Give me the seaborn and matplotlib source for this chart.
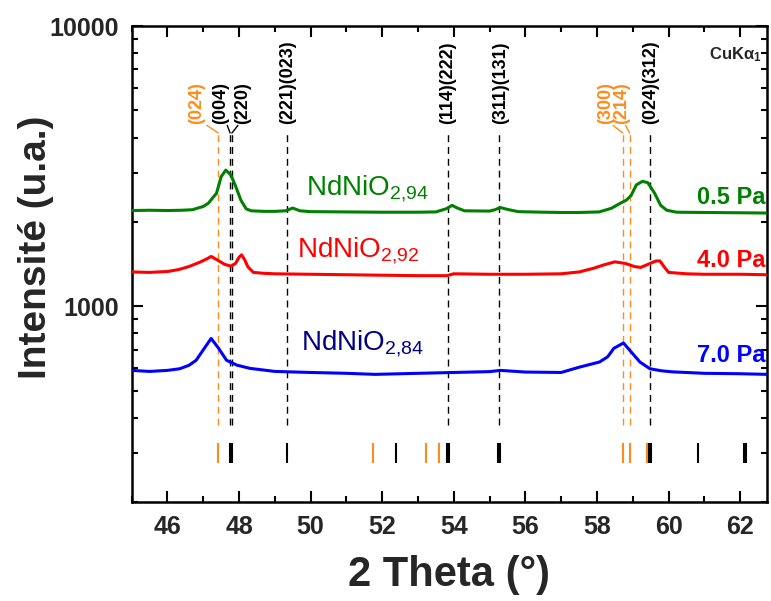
import numpy as np
import pandas as pd
import matplotlib
matplotlib.use('Agg')
import matplotlib.pyplot as plt
from matplotlib.ticker import MultipleLocator, FixedLocator, FixedFormatter, LogLocator, NullFormatter
import seaborn as sns

sns.set_style('ticks')
plt.rcParams['font.family'] = ['Liberation Sans', 'DejaVu Sans']
plt.rcParams['mathtext.fontset'] = 'custom'
plt.rcParams['mathtext.rm'] = 'Liberation Sans'
plt.rcParams['mathtext.it'] = 'Liberation Sans:italic'
plt.rcParams['mathtext.bf'] = 'Liberation Sans:bold'

# XRD scans (2 theta in deg, intensity in a.u.)
tt_05 = [45.0, 45.5, 46.0, 46.4, 46.7, 47.0, 47.14, 47.37, 47.5, 47.63, 47.77, 47.91, 48.05,
         48.2, 48.34, 48.7, 49.0, 49.3, 49.5, 49.7, 50.0, 51.0, 52.0, 53.0, 53.5, 53.8, 53.95,
         54.1, 54.3, 55.0, 55.15, 55.3, 55.5, 55.8, 56.5, 57.0, 57.5, 58.06, 58.4, 58.65, 58.82,
         58.95, 59.1, 59.27, 59.42, 59.61, 59.78, 59.95, 60.23, 61.0, 62.0, 62.75]
i_05 = [2195, 2200, 2195, 2200, 2210, 2270, 2330, 2530, 2900, 3060, 2940, 2670, 2390,
        2225, 2190, 2180, 2180, 2190, 2240, 2190, 2175, 2170, 2165, 2165, 2170, 2230, 2290,
        2240, 2190, 2185, 2210, 2250, 2215, 2175, 2165, 2160, 2160, 2170, 2235, 2330, 2390,
        2480, 2710, 2790, 2760, 2530, 2290, 2200, 2165, 2160, 2155, 2150]

tt_40 = [45.0, 45.5, 46.0, 46.3, 46.6, 46.9, 47.1, 47.22, 47.4, 47.6, 47.77, 47.9, 48.0,
         48.07, 48.15, 48.25, 48.4, 48.7, 49.0, 50.0, 51.0, 52.0, 53.0, 53.8, 54.0, 55.0, 56.0,
         57.0, 57.5, 57.9, 58.2, 58.5, 58.8, 59.05, 59.22, 59.45, 59.65, 59.76, 59.88, 60.0,
         60.5, 61.0, 62.0, 62.75]
i_40 = [1325, 1320, 1330, 1350, 1385, 1435, 1475, 1505, 1460, 1410, 1390, 1420, 1495,
        1525, 1470, 1380, 1320, 1310, 1305, 1300, 1295, 1290, 1285, 1285, 1305, 1300, 1300,
        1305, 1325, 1365, 1405, 1440, 1420, 1385, 1375, 1415, 1450, 1450, 1380, 1320,
        1305, 1300, 1300, 1295]

tt_70 = [45.0, 45.5, 46.0, 46.34, 46.6, 46.8, 47.08, 47.22, 47.42, 47.65, 47.94, 48.3, 48.72,
         49.0, 50.0, 51.0, 51.8, 53.0, 54.0, 55.0, 55.3, 56.0, 57.0, 57.51, 58.07, 58.3,
         58.47, 58.74, 58.92, 59.2, 59.48, 59.8, 60.1, 61.0, 62.0, 62.75]
i_70 = [590, 585, 590, 598, 615, 641, 723, 767, 710, 641, 616, 600, 591,
        585, 580, 576, 571, 576, 580, 584, 590, 582, 580, 606, 632, 660,
        707, 739, 695, 632, 598, 588, 583, 576, 574, 571]

pressures = ['0.5 Pa', '4.0 Pa', '7.0 Pa']
compounds = [r'NdNiO$_{2{,}94}$', r'NdNiO$_{2{,}92}$', r'NdNiO$_{2{,}84}$']
line_colors = ['#008000', '#ff0000', '#0000ff']
name_colors = ['#008000', '#ff0000', '#000080']

# indexed reflections (dashed markers)
hkl_pos = [47.42, 47.75, 47.80, 49.33, 53.84, 55.27, 58.72, 58.91, 59.48]
hkl_text = ['(024)', '(004)', '(220)', '(221)(023)', '(114)(222)', '(311)(131)', '(300)', '(214)', '(024)(312)']
hkl_label_x = [46.82, 47.48, 48.10, 49.36, 53.84, 55.30, 58.23, 58.68, 59.50]
hkl_orange = [True, False, False, False, False, False, True, True, False]

# reference pattern sticks
ref_orange = [47.42, 51.74, 53.23, 53.58, 58.72, 58.91, 59.40]
ref_black = [47.75, 47.80, 49.33, 52.38, 53.80, 53.87, 55.24, 55.29, 59.46, 59.51, 60.82, 62.10, 62.16]

orange = '#ff8c1a'

fig, ax = plt.subplots(figsize=(7.71, 6.01), dpi=100)
fig.subplots_adjust(left=0.1708, right=0.9948, top=0.9567, bottom=0.1647)

scans = [(tt_05, i_05), (tt_40, i_40), (tt_70, i_70)]
for (tt, ii), col in zip(scans, line_colors):
    sns.lineplot(x=tt, y=ii, color=col, lw=2.2, ax=ax, sort=False, estimator=None, zorder=3)

ax.set_yscale('log')
ax.set_xlim(45, 62.75)
ax.set_ylim(200, 10000)

# dashed reflection markers + labels
for x, t, lx, o in zip(hkl_pos, hkl_text, hkl_label_x, hkl_orange):
    c = orange if o else 'black'
    ax.plot([x, x], [376, 4150], color=c, lw=1.0, ls=(0, (5, 3.5)), zorder=2)
    ax.text(lx, 4480, t, rotation=90, ha='center', va='bottom', fontsize=13,
            fontweight='bold', color=c)

# small connectors from offset labels to their lines
conn_start = [47.10, 47.67, 47.97, 58.45, 58.80]
conn_end = [47.42, 47.75, 47.80, 58.72, 58.91]
conn_orange = [True, False, False, True, True]
for x0, x1, o in zip(conn_start, conn_end, conn_orange):
    ax.plot([x0, x1], [4420, 4150], color=orange if o else 'black', lw=1.0)

ax.vlines(ref_orange, 275, 324, colors=orange, lw=1.5)
ax.vlines(ref_black, 275, 324, colors='black', lw=1.5)

# sample labels
name_pos = [(49.87, 2490), (49.62, 1497), (49.74, 697)]
press_y = [2450, 1460, 668]
for name, p, nc, lc, (nx, ny), py in zip(compounds, pressures, name_colors, line_colors, name_pos, press_y):
    ax.text(nx, ny, name, color=nc, fontsize=20, ha='left', va='baseline')
    ax.text(62.7, py, p, color=lc, fontsize=17, fontweight='bold', ha='right', va='center')

ax.text(62.6, 7900, 'CuKα$_\\mathbf{1}$', fontsize=12, fontweight='bold', ha='right', va='center')

ax.xaxis.set_major_locator(MultipleLocator(2))
ax.xaxis.set_minor_locator(MultipleLocator(1))
ax.yaxis.set_major_locator(FixedLocator([1000, 10000]))
ax.yaxis.set_major_formatter(FixedFormatter(['1000', '10000']))
ax.yaxis.set_minor_locator(LogLocator(base=10, subs=np.arange(2, 10)))
ax.yaxis.set_minor_formatter(NullFormatter())

ax.tick_params(which='both', direction='in', top=True, right=True, width=1.5, color='black')
ax.tick_params(which='major', length=8, labelsize=18, pad=9)
ax.tick_params(which='minor', length=4)
for lab in ax.get_xticklabels() + ax.get_yticklabels():
    lab.set_fontweight('bold')
for sp in ax.spines.values():
    sp.set_linewidth(1.8)
    sp.set_color('black')

ax.set_xlabel('2 Theta (°)', fontsize=30, fontweight='bold', labelpad=12)
ax.set_ylabel('Intensité (u.a.)', fontsize=28, fontweight='bold')
ax.yaxis.set_label_coords(-0.122, 0.535)

fig.savefig('out.png', dpi=100)
